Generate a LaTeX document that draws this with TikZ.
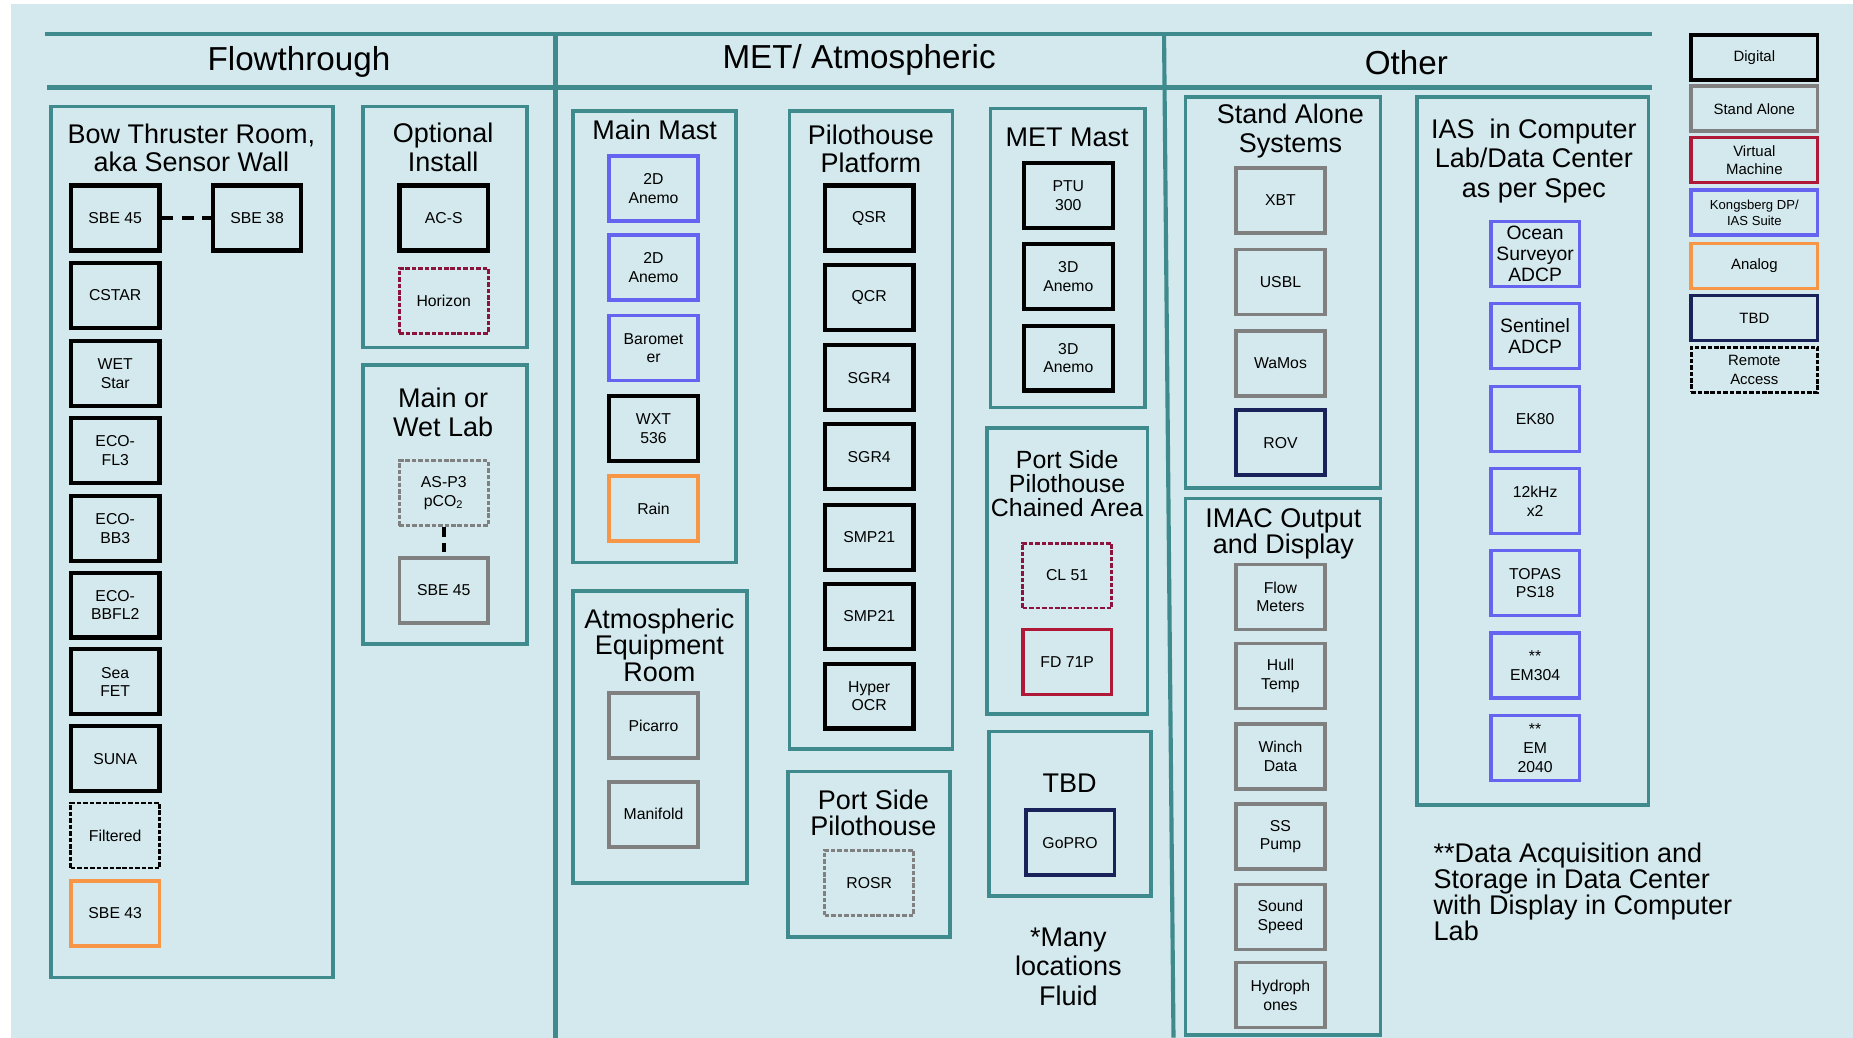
\documentclass[tikz,border=0pt]{standalone}
\usepackage{fontspec}
\setmainfont{Liberation Sans}
\definecolor{bgblue}{HTML}{D4E9ED}
\definecolor{frameteal}{HTML}{3E8A8D}
\definecolor{sagray}{HTML}{808080}
\definecolor{vmred}{HTML}{AF1937}
\definecolor{vmdot}{HTML}{8C143C}
\definecolor{ksblue}{HTML}{6464F0}
\definecolor{anorange}{HTML}{F79646}
\definecolor{tbdnavy}{HTML}{19235A}
\begin{document}
\begin{tikzpicture}[x=0.02cm,y=-0.02cm,
  box/.style={draw, rectangle, line width=0.06cm, minimum width=1.5cm, minimum height=1.1cm, inner sep=1pt, align=center, font=\fontsize{7.6}{9}\selectfont},
  digital/.style={box, draw=black, line width=0.07cm},
  standalone/.style={box, draw=sagray},
  virtual/.style={box, draw=vmred},
  kongsberg/.style={box, draw=ksblue},
  analog/.style={box, draw=anorange},
  tbd/.style={box, draw=tbdnavy},
  remote/.style={box, line width=0.05cm, dash pattern=on 2.2pt off 0.9pt},
  legendbox/.style={box, minimum width=2.14cm, minimum height=0.76cm, font=\fontsize{7.2}{9}\selectfont},
  area/.style={draw=frameteal, line width=0.06cm},
  areatitle/.style={align=center, font=\fontsize{13}{13.8}\selectfont},
  header/.style={font=\fontsize{16}{18}\selectfont},
  link/.style={draw=black, line width=0.06cm, dash pattern=on 0.2cm off 0.14cm}]
\useasboundingbox (0,0) rectangle (1568,878);
\fill[white] (0,0) rectangle (1568,878);
\fill[bgblue] (9,3) rectangle (1568,878);

% header rows
\draw[area, line width=0.07cm] (38,29) -- (1398,29);
\draw[area, line width=0.07cm] (40,74) -- (1398,74);
\draw[area, line width=0.07cm] (470,29) -- (470,878);
\draw[area, line width=0.07cm] (985,29) -- (993,878);
\node[header] (hflow) at (253,52) {Flowthrough};
\node[header] (hmet) at (727,51) {MET/ Atmospheric};
\node[header] (hother) at (1190,53) {Other};

% Flowthrough
\draw[area] (43,90) rectangle (282,827);
\node[areatitle, font=\fontsize{13}{13.6}\selectfont] (tbow) at (162,125) {Bow Thruster Room,\\aka Sensor Wall};
\node[digital] (sbe45) at (97.5,184.5) {SBE 45};
\node[digital] (sbe38) at (217.5,184.5) {SBE 38};
\node[digital] (cstar) at (97.5,250) {CSTAR};
\node[digital] (wetstar) at (97.5,316) {WET\\Star};
\node[digital] (ecofl) at (97.5,381) {ECO-\\FL3};
\node[digital] (ecobb) at (97.5,447) {ECO-\\BB3};
\node[digital] (ecobbfl) at (97.5,512) {ECO-\\BBFL2};
\node[digital] (seafet) at (97.5,577) {Sea\\FET};
\node[digital] (suna) at (97.5,642) {SUNA};
\node[remote, draw=black] (filtered) at (97.5,707) {Filtered};
\node[analog] (sbe43) at (97.5,773) {SBE 43};
\draw[link] (sbe45) -- (sbe38);

\draw[area] (307,90) rectangle (446,294);
\node[areatitle] (topt) at (375,124.5) {Optional\\Install};
\node[digital] (acs) at (375.5,184.5) {AC-S};
\node[remote, draw=vmdot] (horizon) at (375.5,254.5) {Horizon};

\draw[area] (307,309) rectangle (446,545);
\node[areatitle, font=\fontsize{13}{13.6}\selectfont] (twet) at (375,349) {Main or\\Wet Lab};
\node[remote, draw=sagray] (asp) at (375.5,417.5) {AS-P3\\pCO\textsubscript{2}};
\node[standalone] (sbe45b) at (375.5,499.5) {SBE 45};
\draw[link, dash pattern=on 0.16cm off 0.1cm] (asp) -- (sbe45b);

% MET/ Atmospheric
\draw[area] (485,94) rectangle (623,476);
\node[areatitle] (tmain) at (554,110) {Main Mast};
\node[kongsberg] (anemoa) at (553,159.5) {2D\\Anemo};
\node[kongsberg] (anemob) at (553,226.5) {2D\\Anemo};
\node[kongsberg] (baro) at (553,294.5) {Baromet\\er};
\node[digital] (wxt) at (553,362.5) {WXT\\536};
\node[analog] (rain) at (553,430.5) {Rain};

\draw[area] (485,500) rectangle (632,747);
\node[areatitle, font=\fontsize{13}{12.8}\selectfont] (tatmo) at (558,546) {Atmospheric\\Equipment\\Room};
\node[standalone] (picarro) at (553,614) {Picarro};
\node[standalone] (manifold) at (553,689) {Manifold};

\draw[area] (668,94) rectangle (806,634);
\node[areatitle] (tpilot) at (737,126) {Pilothouse\\Platform};
\node[digital] (qsr) at (735.5,184.5) {QSR};
\node[digital] (qcr) at (735.5,252) {QCR};
\node[digital] (sgra) at (735.5,319.5) {SGR4};
\node[digital] (sgrb) at (735.5,386.5) {SGR4};
\node[digital] (smpa) at (735.5,454.5) {SMP21};
\node[digital] (smpb) at (735.5,521.5) {SMP21};
\node[digital] (hyper) at (735.5,589) {Hyper\\OCR};

\draw[area] (667,653) rectangle (804,793);
\node[areatitle, font=\fontsize{13}{12.6}\selectfont] (tport) at (739,688) {Port Side\\Pilothouse};
\node[remote, draw=sagray] (rosr) at (735.5,747) {ROSR};

\draw[area] (838,92) rectangle (969,345);
\node[areatitle] (tmet) at (903,116) {MET Mast};
\node[digital] (ptu) at (904,165.5) {PTU\\300};
\node[digital] (anemoc) at (904,234) {3D\\Anemo};
\node[digital] (anemod) at (904,303) {3D\\Anemo};

\draw[area] (835,362) rectangle (971,604);
\node[areatitle, font=\fontsize{12}{11.6}\selectfont] (tchain) at (903,409.5) {Port Side\\Pilothouse\\Chained Area};
\node[remote, draw=vmdot] (cl) at (903,487) {CL 51};
\node[virtual] (fd) at (903,560) {FD 71P};

\draw[area] (837,619) rectangle (974,758);
\node[areatitle] (ttbd) at (905,663) {TBD};
\node[tbd] (gopro) at (905.5,713) {GoPRO};
\node[areatitle, font=\fontsize{13}{14.2}\selectfont] (many) at (904,818) {*Many\\locations\\Fluid};

% Other
\draw[area] (1003,82) rectangle (1168,413);
\node[areatitle, font=\fontsize{13}{14}\selectfont] (tstand) at (1092,111) {Stand Alone\\Systems};
\node[standalone] (xbt) at (1083.5,169.5) {XBT};
\node[standalone] (usbl) at (1083.5,238.5) {USBL};
\node[standalone] (wamos) at (1083.5,307.5) {WaMos};
\node[tbd] (rov) at (1083.5,374.5) {ROV};

\draw[area] (1003,422) -- (1003,876) -- (1168,876) -- (1168,422) -- cycle;
\node[areatitle, font=\fontsize{13}{12.5}\selectfont] (timac) at (1086,452) {IMAC Output\\and Display};
\node[standalone] (flow) at (1083.5,505) {Flow\\Meters};
\node[standalone] (hull) at (1083.5,572) {Hull\\Temp};
\node[standalone] (winch) at (1083.5,640) {Winch\\Data};
\node[standalone] (pump) at (1083.5,708) {SS\\Pump};
\node[standalone] (sound) at (1083.5,776) {Sound\\Speed};
\node[standalone] (hydro) at (1083.5,842) {Hydroph\\ones};

\draw[area] (1199,82) rectangle (1395,681);
\node[areatitle, font=\fontsize{13}{14.2}\selectfont] (tias) at (1298,136) {IAS~ in Computer\\Lab/Data Center\\as per Spec};
\node[kongsberg, font=\fontsize{9.3}{10.2}\selectfont] (ocean) at (1299,215) {Ocean\\Surveyor\\ADCP};
\node[kongsberg, font=\fontsize{9.3}{10.2}\selectfont] (sentinel) at (1299,284.5) {Sentinel\\ADCP};
\node[kongsberg] (ek) at (1299,354.5) {EK80};
\node[kongsberg] (khz) at (1299,424) {12kHz\\x2};
\node[kongsberg] (topas) at (1299,493.5) {TOPAS\\PS18};
\node[kongsberg] (em304) at (1299,563) {**\\EM304};
\node[kongsberg] (em2040) at (1299,633) {**\\EM\\2040};
\node[anchor=west, align=left, font=\fontsize{13}{12.5}\selectfont] (note) at (1207,755) {**Data Acquisition and\\Storage in Data Center\\with Display in Computer\\Lab};

% legend
\node[legendbox, draw=black] (ldigital) at (1484.5,48.5) {Digital};
\node[legendbox, draw=sagray] (lstand) at (1484.5,92) {Stand Alone};
\node[legendbox, draw=vmred] (lvirtual) at (1484.5,135.5) {Virtual\\Machine};
\node[legendbox, draw=ksblue, font=\fontsize{6.3}{7.8}\selectfont] (lkong) at (1484.5,180) {Kongsberg DP/\\IAS Suite};
\node[legendbox, draw=anorange] (lanalog) at (1484.5,225) {Analog};
\node[legendbox, draw=tbdnavy] (ltbd) at (1484.5,269) {TBD};
\node[legendbox, draw=black, line width=0.05cm, dash pattern=on 2.2pt off 0.9pt] (lremote) at (1484.5,313) {Remote\\Access};
\end{tikzpicture}
\end{document}
